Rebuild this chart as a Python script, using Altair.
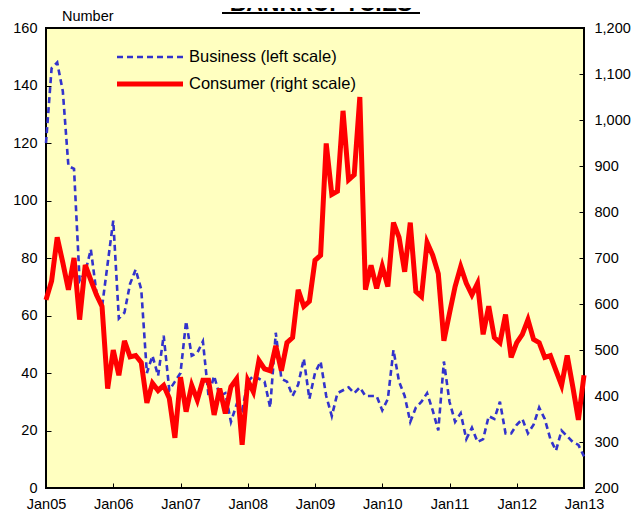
import json
import altair as alt
import pandas as pd

# ---------------- data ----------------
x_labels = ["Jan05", "Jan06", "Jan07", "Jan08", "Jan09", "Jan10", "Jan11", "Jan12", "Jan13"]

business = [
    120, 146, 148, 138, 112, 111, 72, 75, 83, 68, 63, 78,
    93, 59, 61, 71, 76, 69, 40, 46, 39, 53, 34, 37,
    40, 58, 46, 47, 51, 32, 39, 32, 33, 23, 29, 27,
    37, 39, 38, 37, 28, 54, 38, 37, 32, 36, 45, 31,
    40, 44, 32, 25, 33, 34, 35, 33, 35, 32, 32, 32,
    27, 31, 48, 37, 32, 23, 28, 30, 33, 27, 20, 44,
    30, 23, 26, 17, 21, 16, 17, 25, 24, 30, 19, 19,
    22, 24, 19, 22, 28, 24, 17, 13, 20, 18, 16, 15,
    11,
]

consumer = [
    609, 650, 745, 690, 631, 700, 566, 685, 652, 620, 595, 416,
    500, 445, 520, 485, 488, 473, 385, 428, 412, 423, 395, 309,
    441, 366, 423, 391, 434, 434, 359, 416, 362, 420, 437, 294,
    434, 409, 477, 459, 455, 509, 455, 516, 527, 631, 595, 606,
    695, 706, 949, 838, 845, 1020, 870, 881, 1050, 631, 684, 634,
    682, 638, 777, 745, 670, 777, 627, 616, 734, 706, 666, 520,
    580, 638, 681, 645, 620, 645, 534, 595, 527, 516, 577, 484,
    516, 534, 566, 523, 516, 484, 488, 455, 423, 488, 420, 348,
    445,
]

legend_labels = ["Business (left scale)", "Consumer (right scale)"]
title_text = "BANKRUPTCIES"
left_unit = "Number"
left_ticks = [0, 20, 40, 60, 80, 100, 120, 140, 160]
right_ticks = [200, 300, 400, 500, 600, 700, 800, 900, 1000, 1100, 1200]

# ---------------- build ----------------
n = len(business)
df = pd.DataFrame({"m": list(range(n)), "business": business, "consumer": consumer})

W, H = 538, 460
PAD = {"left": 38, "top": 20, "right": 624 - 38 - 538, "bottom": 504 - 20 - 460}
FONT = "Liberation Sans"
BLUE = "#3333CC"
RED = "#FF0000"

label_js = json.dumps(x_labels)

x_enc = alt.X(
    "m:Q",
    scale=alt.Scale(domain=[0, n - 1], nice=False, zero=False),
    axis=alt.Axis(
        values=list(range(0, n, 12)),
        labelExpr=f"{label_js}[round(datum.value / 12)]",
        title=None, grid=False, domain=False,
        tickSize=5, offset=-5, labelPadding=9,
        tickColor="black", labelColor="black",
        labelFont=FONT, labelFontSize=14.5, labelFlush=False,
    ),
)

blue = alt.Chart(df).mark_line(color=BLUE, strokeWidth=2.6, strokeDash=[6, 4]).encode(
    x=x_enc,
    y=alt.Y(
        "business:Q",
        scale=alt.Scale(domain=[0, 160], nice=False),
        axis=alt.Axis(
            orient="left", values=left_ticks, title=None, grid=False, domain=False,
            tickSize=5, offset=-5, labelPadding=9,
            tickColor="black", labelColor="black",
            labelFont=FONT, labelFontSize=14.5,
        ),
    ),
)

red = alt.Chart(df).mark_line(color=RED, strokeWidth=5).encode(
    x=x_enc,
    y=alt.Y(
        "consumer:Q",
        scale=alt.Scale(domain=[200, 1200], nice=False, zero=False),
        axis=alt.Axis(
            orient="right", values=right_ticks, format=",.0f", title=None, grid=False,
            domain=False, tickSize=5, offset=-5, labelPadding=10,
            tickColor="black", labelColor="black",
            labelFont=FONT, labelFontSize=14.5,
        ),
    ),
)

# legend (drawn inside the plot, like the original)
leg_b = pd.DataFrame({"label": [legend_labels[0]]})
leg_r = pd.DataFrame({"label": [legend_labels[1]]})
lx0, lx1, ltx = 71, 137, 143
ly0, ly1 = 29, 56

leg_line_b = alt.Chart(leg_b).mark_rule(color=BLUE, strokeWidth=2.6, strokeDash=[6, 4]).encode(
    x=alt.value(lx0), x2=alt.value(lx1), y=alt.value(ly0))
leg_line_r = alt.Chart(leg_r).mark_rule(color=RED, strokeWidth=5).encode(
    x=alt.value(lx0), x2=alt.value(lx1), y=alt.value(ly1))
leg_text_b = alt.Chart(leg_b).mark_text(align="left", baseline="middle", font=FONT, fontSize=16.5, color="black").encode(
    x=alt.value(ltx), y=alt.value(ly0), text="label:N")
leg_text_r = alt.Chart(leg_r).mark_text(align="left", baseline="middle", font=FONT, fontSize=16.5, color="black").encode(
    x=alt.value(ltx), y=alt.value(ly1), text="label:N")

unit_text = alt.Chart(pd.DataFrame({"t": [left_unit]})).mark_text(
    align="left", baseline="middle", font=FONT, fontSize=14.5, color="black").encode(
    x=alt.value(16), y=alt.value(-11), text="t:N")

title_df = pd.DataFrame({"t": [title_text]})
title_mark = alt.Chart(title_df).mark_text(
    align="center", baseline="alphabetic", font=FONT, fontSize=23, fontWeight="bold", color="black").encode(
    x=alt.value(275), y=alt.value(-17), text="t:N")
title_line = alt.Chart(title_df).mark_rule(color="black", strokeWidth=2).encode(
    x=alt.value(176), x2=alt.value(374), y=alt.value(-15))

chart = alt.layer(
    blue, red, leg_line_b, leg_line_r, leg_text_b, leg_text_r, unit_text, title_mark, title_line
).resolve_scale(y="independent").properties(
    width=W, height=H,
    autosize=alt.AutoSizeParams(type="none"),
    padding=PAD,
    background="white",
).configure_view(
    fill="#FFFFC0", stroke="black", strokeWidth=2
)

chart.save("out.html", embed_options={"renderer": "svg", "actions": False})
